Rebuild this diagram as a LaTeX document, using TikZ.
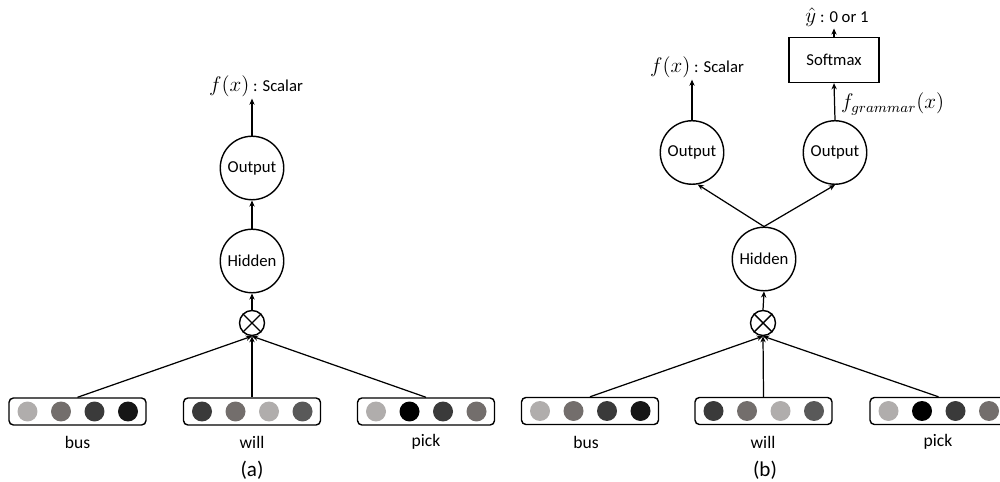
\documentclass[tikz,border=0pt]{standalone}
\usepackage{fontspec}
\setmainfont{Carlito}
\usetikzlibrary{arrows.meta,positioning,calc}
\definecolor{dotlight}{RGB}{176,173,172}
\definecolor{dotmid}{RGB}{115,110,108}
\definecolor{dotgrey}{RGB}{89,89,89}
\definecolor{dotdark}{RGB}{58,58,58}
\definecolor{dotdeep}{RGB}{22,22,22}
\definecolor{dotblack}{RGB}{0,0,0}
\newcommand{\bigmath}[1]{{\fontsize{11.5}{12}\selectfont$#1$}}

\begin{document}
\begin{tikzpicture}[
    x=0.02cm, y=-0.02cm,
    unit/.style={circle, draw, line width=0.8pt, minimum size=1.27cm, inner sep=0pt, font=\fontsize{9.5}{10}\selectfont},
    prod/.style={circle, draw, line width=0.8pt, minimum size=0.5cm, inner sep=0pt},
    wordbox/.style={rectangle, draw, line width=0.8pt, rounded corners=2.5pt, minimum width=2.74cm, minimum height=0.54cm, inner sep=0pt},
    dot/.style={circle, minimum size=0.4cm, inner sep=0pt},
    word/.style={font=\fontsize{10}{11}\selectfont, inner sep=1pt},
    caption/.style={font=\fontsize{12}{14}\selectfont, inner sep=1pt},
    lbl/.style={font=\fontsize{9.5}{11}\selectfont, inner sep=1pt},
    sm/.style={rectangle, draw, line width=0.8pt, minimum width=1.8cm, minimum height=0.9cm, font=\fontsize{9.5}{10}\selectfont},
    arrow/.style={-{Stealth[length=3.5pt,width=3pt]}, line width=0.7pt}
]

\useasboundingbox (0,0) rectangle (1000,482);

% ---------------- (a) single output ----------------
% word vectors
\node[wordbox] (busA) at (77.5,411.5) {};
\node[wordbox] (willA) at (252,411.5) {};
\node[wordbox] (pickA) at (426,411.5) {};
\foreach \c [count=\i] in {dotlight,dotmid,dotdark,dotdeep}
    \node[dot, fill=\c] (busA-\i) at ($(busA.center)+(-83.5+33.5*\i,0)$) {};
\foreach \c [count=\i] in {dotdark,dotmid,dotlight,dotgrey}
    \node[dot, fill=\c] (willA-\i) at ($(willA.center)+(-83.5+33.5*\i,0)$) {};
\foreach \c [count=\i] in {dotlight,dotblack,dotdark,dotmid}
    \node[dot, fill=\c] (pickA-\i) at ($(pickA.center)+(-83.5+33.5*\i,0)$) {};
\node[word] (busAw) at (77.5,442) {bus};
\node[word] (willAw) at (252,442) {will};
\node[word] (pickAw) at (426,442) {pick};
\node[caption] (capA) at (252,470) {(a)};

% combine, hidden, output
\node[prod] (otA) at (252,323) {};
\draw[line width=0.8pt] (otA.north west) -- (otA.south east) (otA.north east) -- (otA.south west);
\node[unit] (hidA) at (252,261) {Hidden};
\node[unit] (outA) at (252,168) {Output};
\node[lbl] (fA) at (256,86) {\bigmath{f(x)} : Scalar};

\draw[arrow] (busA.north) -- (otA.south);
\draw[arrow] (willA.north) -- (otA.south);
\draw[arrow] (pickA.north) -- (otA.south);
\draw[arrow] (otA.north) -- (hidA.south);
\draw[arrow] (hidA.north) -- (outA.south);
\draw[arrow] (outA.north) -- (outA.north |- fA.south);

% ---------------- (b) two outputs ----------------
% word vectors
\node[wordbox] (busB) at (590,411) {};
\node[wordbox] (willB) at (763.5,411) {};
\node[wordbox] (pickB) at (938.5,411) {};
\foreach \c [count=\i] in {dotlight,dotmid,dotdark,dotdeep}
    \node[dot, fill=\c] (busB-\i) at ($(busB.center)+(-83.5+33.5*\i,0)$) {};
\foreach \c [count=\i] in {dotdark,dotmid,dotlight,dotgrey}
    \node[dot, fill=\c] (willB-\i) at ($(willB.center)+(-83.5+33.5*\i,0)$) {};
\foreach \c [count=\i] in {dotlight,dotblack,dotdark,dotmid}
    \node[dot, fill=\c] (pickB-\i) at ($(pickB.center)+(-83.5+33.5*\i,0)$) {};
\node[word] (busBw) at (586,442) {bus};
\node[word] (willBw) at (763,442) {will};
\node[word] (pickBw) at (938,442) {pick};
\node[caption] (capB) at (765,470) {(b)};

% combine, hidden, two heads
\node[prod] (otB) at (763,323) {};
\draw[line width=0.8pt] (otB.north west) -- (otB.south east) (otB.north east) -- (otB.south west);
\node[unit] (hidB) at (764,259) {Hidden};
\node[unit] (outL) at (692,152.5) {Output};
\node[unit] (outR) at (835,152.5) {Output};
\node[lbl] (fB) at (697,67) {\bigmath{f(x)} : Scalar};
\node[sm] (softB) at (834,60) {Softmax};
\node[lbl] (yB) at (837,17) {\bigmath{\hat{y}} : 0 or 1};
\node[lbl, anchor=west] (gB) at (839,104) {\bigmath{f_{grammar}(x)}};

\draw[arrow] (busB.north) -- (otB.south);
\draw[arrow] (willB.north) -- (otB.south);
\draw[arrow] (pickB.north) -- (otB.south);
\draw[arrow] (otB.north) -- (hidB.south);
\draw[arrow] (hidB.north) -- (outL.-80);
\draw[arrow] (hidB.north) -- (outR.south);
\draw[arrow] (outL.north) -- (outL.north |- fB.south);
\draw[arrow] (outR.north) -- (softB.south);
\draw[arrow] (softB.north) -- (softB.north |- yB.south);

\end{tikzpicture}
\end{document}
